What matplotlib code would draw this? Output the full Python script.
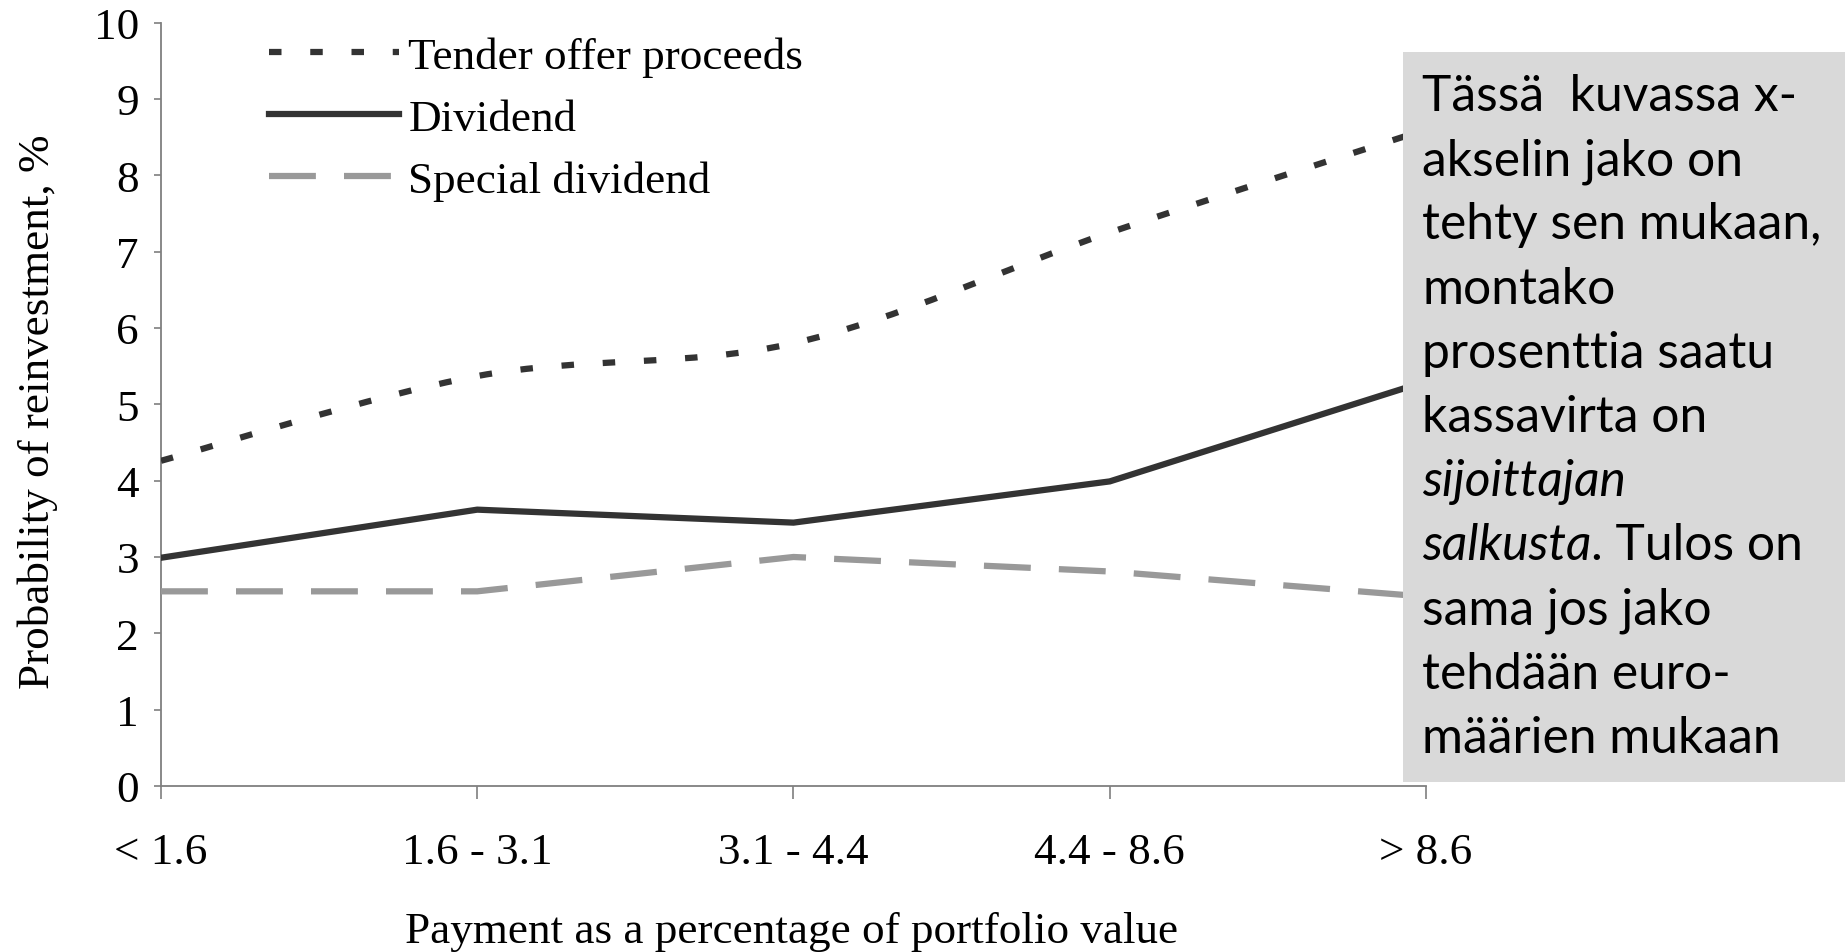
import matplotlib
matplotlib.use('Agg')
import matplotlib.pyplot as plt
from matplotlib.path import Path
from matplotlib.patches import PathPatch, Rectangle
from matplotlib.lines import Line2D

# data
categories = ['< 1.6', '1.6 - 3.1', '3.1 - 4.4', '4.4 - 8.6', '> 8.6']
tender = [4.26, 5.37, 5.80, 7.25, 8.6]
dividend = [2.99, 3.62, 3.45, 3.99, 5.3]
special = [2.55, 2.55, 3.0, 2.81, 2.48]
series_names = ['Tender offer proceeds', 'Dividend', 'Special dividend']

note_lines = ['Tässä  kuvassa x-', 'akselin jako on', 'tehty sen mukaan,',
              'montako', 'prosenttia saatu', 'kassavirta on']
note_italic = 'sijoittajan'
note_mixed = ('salkusta', '. Tulos on')
note_tail = ['sama jos jako', 'tehdään euro-', 'määrien mukaan']

DARK = '#333333'
GREY = '#999999'
SERIF = 'Liberation Serif'
SANS = ['Lato', 'DejaVu Sans']
FS = 32.5


def smooth_path(xs, ys):
    # Excel-style smoothed line: Catmull-Rom turned into cubic beziers
    n = len(xs)
    verts = [(xs[0], ys[0])]
    codes = [Path.MOVETO]
    for i in range(n - 1):
        a = max(i - 1, 0)
        d = min(i + 2, n - 1)
        c1 = (xs[i] + (xs[i + 1] - xs[a]) / 6, ys[i] + (ys[i + 1] - ys[a]) / 6)
        c2 = (xs[i + 1] - (xs[d] - xs[i]) / 6, ys[i + 1] - (ys[d] - ys[i]) / 6)
        verts += [c1, c2, (xs[i + 1], ys[i + 1])]
        codes += [Path.CURVE4] * 3
    return Path(verts, codes)


fig = plt.figure(figsize=(18.47, 9.53), dpi=100)
ax = fig.add_axes([161 / 1847, 1 - 787 / 953, (1426 - 161) / 1847, (787 - 23.6) / 953])

x = list(range(len(categories)))
lw = 4.5
tender_style = (0, (2.0, 4.6))
special_style = (0, (7.5, 4.5))

ax.add_patch(PathPatch(smooth_path(x, tender), facecolor='none', edgecolor=DARK,
                       lw=lw, linestyle=tender_style, capstyle='butt', zorder=3))
ax.plot(x, dividend, color=DARK, lw=lw, solid_joinstyle='miter', zorder=3)
ax.plot(x, special, color=GREY, lw=lw, linestyle=special_style,
        dash_capstyle='butt', zorder=3)

ax.set_xlim(0, len(categories) - 1)
ax.set_ylim(0, 10)
ax.set_yticks(range(0, 11))
ax.set_xticks(x)
ax.set_xticklabels(categories)

for s in ['top', 'right']:
    ax.spines[s].set_visible(False)
for s in ['left', 'bottom']:
    ax.spines[s].set_color('#7f7f7f')
    ax.spines[s].set_linewidth(1.3)

ax.tick_params(axis='y', direction='out', length=5, width=1.2, color='#7f7f7f', pad=11)
ax.tick_params(axis='x', direction='out', length=9, width=1.2, color='#7f7f7f', pad=24)
for lab in ax.get_xticklabels() + ax.get_yticklabels():
    lab.set_fontfamily(SERIF)
    lab.set_fontsize(FS)

ax.set_xlabel('Payment as a percentage of portfolio value', fontfamily=SERIF, fontsize=FS)
ax.xaxis.set_label_coords((792 - 161) / 1265, -(952 - 787) / 763.4, transform=ax.transAxes)
ax.xaxis.label.set_va('bottom')
ax.set_ylabel('Probability of reinvestment, %', fontfamily=SERIF, fontsize=FS)
ax.yaxis.set_label_coords(-(161 - 58) / 1265, (787 - 412) / 763.4)

handles = [
    Line2D([], [], color=DARK, lw=lw, linestyle=tender_style, dash_capstyle='butt'),
    Line2D([], [], color=DARK, lw=lw),
    Line2D([], [], color=GREY, lw=lw, linestyle=special_style, dash_capstyle='butt'),
]
leg = fig.legend(handles, series_names, loc='upper left',
                 bbox_to_anchor=(269 / 1847, 1 - 37 / 953), frameon=False,
                 prop={'family': SERIF, 'size': FS}, handlelength=2.87,
                 handletextpad=0.22, labelspacing=0.48, borderpad=0, borderaxespad=0)

# grey note box on top of the right end of the chart
fig.patches.append(Rectangle((1403 / 1847, 1 - 783 / 953), (1845 - 1403) / 1847,
                             (783 - 53) / 953, transform=fig.transFigure,
                             facecolor='#d9d9d9', edgecolor='none', zorder=5))

# pick the note size so the widest line is as wide as in the reference
r = fig.canvas.get_renderer()
probe = fig.text(0, 0, note_lines[2], family=SANS, fontsize=40)
fs = 40 * 398 / probe.get_window_extent(r).width
probe.remove()

tx = 1422 / 1847
base0 = 111
step = 64.2
row = 0
for line in note_lines:
    fig.text(tx, 1 - (base0 + step * row) / 953, line, family=SANS, fontsize=fs,
             va='baseline', zorder=6)
    row += 1
fig.text(tx, 1 - (base0 + step * row) / 953, note_italic, family=SANS, style='italic',
         fontsize=fs, va='baseline', zorder=6)
row += 1
t_it = fig.text(tx, 1 - (base0 + step * row) / 953, note_mixed[0], family=SANS,
                style='italic', fontsize=fs, va='baseline', zorder=6)
w = t_it.get_window_extent(r).width / 1847
fig.text(tx + w, 1 - (base0 + step * row) / 953, note_mixed[1], family=SANS,
         fontsize=fs, va='baseline', zorder=6)
row += 1
for line in note_tail:
    fig.text(tx, 1 - (base0 + step * row) / 953, line, family=SANS, fontsize=fs,
             va='baseline', zorder=6)
    row += 1

fig.savefig('out.png', dpi=100)
